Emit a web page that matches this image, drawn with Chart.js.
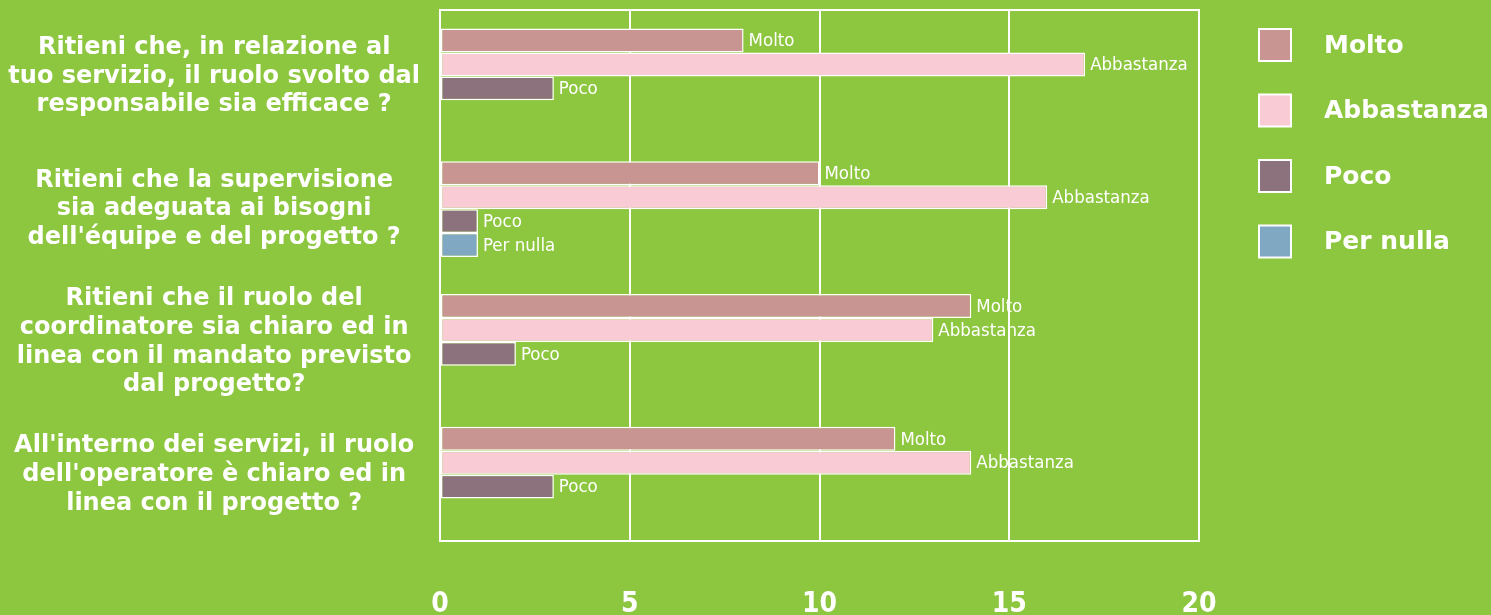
<!DOCTYPE html>
<html>
<head>
<meta charset="utf-8">
<script src="https://cdn.jsdelivr.net/npm/chart.js@4"></script>
<style>
  body { margin: 0; background: #8dc63f; }
  #wrap { width: 1491px; height: 615px; }
</style>
</head>
<body>
<div id="wrap"><canvas id="chart" width="1491" height="615"></canvas></div>
<script>
// ======================
// DATA
// ======================
const categories = [
  ["Ritieni che, in relazione al", "tuo servizio, il ruolo svolto dal", "responsabile sia efficace ?"],
  ["Ritieni che la supervisione", "sia adeguata ai bisogni", "dell'équipe e del progetto ?"],
  ["Ritieni che il ruolo del", "coordinatore sia chiaro ed in", "linea con il mandato previsto", "dal progetto?"],
  ["All'interno dei servizi, il ruolo", "dell'operatore è chiaro ed in", "linea con il progetto ?"]
];
const seriesNames = ["Molto", "Abbastanza", "Poco", "Per nulla"];
const molto = [8, 10, 14, 12];
const abbastanza = [17, 16, 13, 14];
const poco = [3, 1, 2, 3];
const perNulla = [0, 1, 0, 0];
const xTicks = [0, 5, 10, 15, 20];

const colors = ["#c99592", "#f9cbd4", "#8c727c", "#80a8c3"];
const narrow = "'Liberation Sans Narrow', 'DejaVu Sans Condensed', sans-serif";

// ======================
// PLUGINS
// ======================
const plotBorder = {
  id: "plotBorder",
  beforeDatasetsDraw(chart) {
    const a = chart.chartArea;
    const ctx = chart.ctx;
    ctx.save();
    ctx.strokeStyle = "#fff";
    ctx.lineWidth = 2;
    ctx.strokeRect(a.left, a.top, a.right - a.left, a.bottom - a.top);
    ctx.restore();
  }
};

const barLabels = {
  id: "barLabels",
  afterDatasetsDraw(chart) {
    const ctx = chart.ctx;
    ctx.save();
    ctx.font = "18.5px " + narrow;
    ctx.fillStyle = "#fff";
    ctx.textBaseline = "middle";
    chart.data.datasets.forEach((ds, i) => {
      chart.getDatasetMeta(i).data.forEach((bar, j) => {
        if (!ds.data[j]) return;
        ctx.fillText(ds.label, bar.x + 5, bar.y + 1);
      });
    });
    ctx.restore();
  }
};

const sideLegend = {
  id: "sideLegend",
  afterDraw(chart) {
    const ctx = chart.ctx;
    ctx.save();
    ctx.font = "bold 25px 'DejaVu Sans'";
    ctx.textBaseline = "middle";
    chart.data.datasets.forEach((ds, i) => {
      const y = 29 + i * 65.5;
      ctx.fillStyle = ds.backgroundColor;
      ctx.fillRect(1259, y, 32, 32);
      ctx.strokeStyle = "#fff";
      ctx.lineWidth = 2;
      ctx.strokeRect(1259, y, 32, 32);
      ctx.fillStyle = "#fff";
      ctx.fillText(ds.label, 1324, y + 17);
    });
    ctx.restore();
  }
};

// ======================
// CHART
// ======================
const values = [molto, abbastanza, poco, perNulla];

new Chart(document.getElementById("chart"), {
  type: "bar",
  data: {
    labels: categories,
    datasets: seriesNames.map((name, i) => ({
      label: name,
      data: values[i],
      backgroundColor: colors[i],
      borderColor: "#fff",
      borderWidth: 1.5,
      borderSkipped: false,
      categoryPercentage: 0.72,
      barPercentage: 1
    }))
  },
  options: {
    indexAxis: "y",
    responsive: false,
    animation: false,
    layout: { padding: { top: 10, right: 292, left: 0, bottom: 0 } },
    plugins: {
      legend: { display: false },
      tooltip: { enabled: false }
    },
    scales: {
      x: {
        min: 0,
        max: 20,
        afterBuildTicks: (s) => { s.ticks = xTicks.map(v => ({ value: v })); },
        afterFit: (s) => { s.height = 74; s.paddingLeft = 0; s.paddingRight = 0; },
        grid: { color: "#fff", lineWidth: 2, drawTicks: false },
        border: { display: false },
        ticks: {
          color: "#fff",
          padding: 47,
          font: { family: narrow, size: 28, weight: "bold" }
        }
      },
      y: {
        afterFit: (s) => { s.width = 440; s.paddingTop = 0; s.paddingBottom = 0; },
        grid: { display: false, drawTicks: false },
        border: { display: false },
        ticks: {
          color: "#fff",
          crossAlign: "center",
          padding: 20,
          font: { family: "'DejaVu Sans'", size: 24, weight: "bold", lineHeight: 1.2 }
        }
      }
    }
  },
  plugins: [plotBorder, barLabels, sideLegend]
});
</script>
</body>
</html>
